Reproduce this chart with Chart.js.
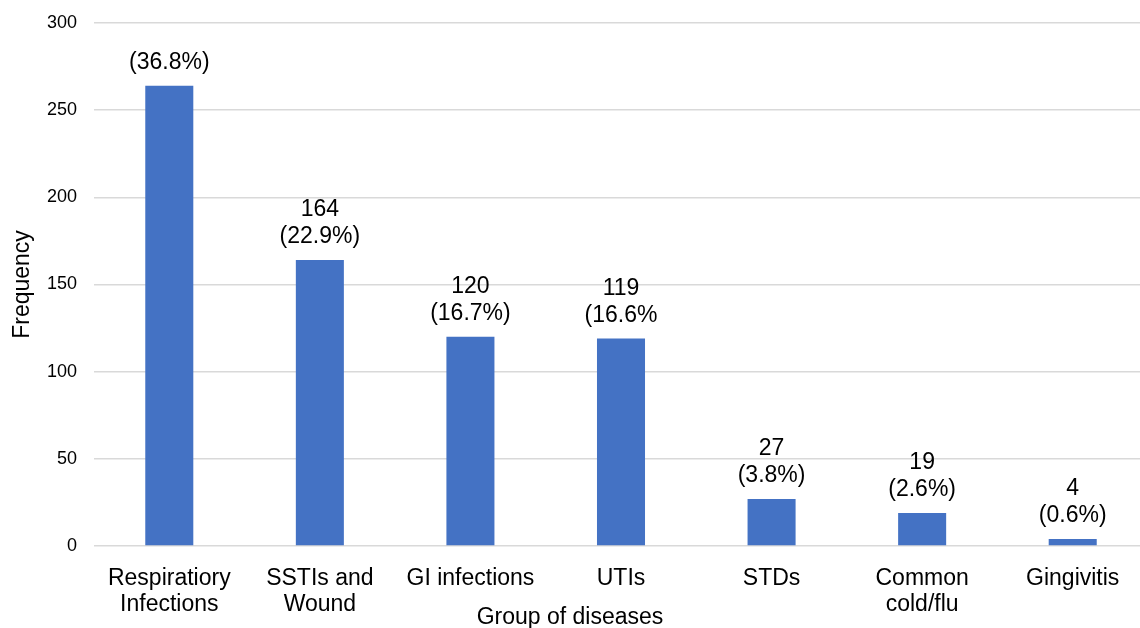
<!DOCTYPE html>
<html>
<head>
<meta charset="utf-8">
<script src="https://cdn.jsdelivr.net/npm/chart.js@4.4.1/dist/chart.umd.min.js"></script>
<style>
html,body{margin:0;padding:0;background:#fff;overflow:hidden;}
#wrap{width:1140px;height:628px;overflow:hidden;}
</style>
</head>
<body>
<div id="wrap"><canvas id="c" width="1148" height="628"></canvas></div>
<script>
const categories = [['Respiratiory','Infections'], ['SSTIs and','Wound'], ['GI infections'], ['UTIs'], ['STDs'], ['Common','cold/flu'], ['Gingivitis']];
const frequencies = [264, 164, 120, 119, 27, 19, 4];
const countLabels = ['', '164', '120', '119', '27', '19', '4'];
const percentLabels = ['(36.8%)', '(22.9%)', '(16.7%)', '(16.6%', '(3.8%)', '(2.6%)', '(0.6%)'];
const yTicks = [0, 50, 100, 150, 200, 250, 300];
const xTitle = 'Group of diseases';

const FONT = "'Liberation Sans', Arial, sans-serif";
const VISIBLE_WIDTH = 1140;

const labelPlugin = {
  id: 'barLabels',
  afterDatasetsDraw(chart) {
    const ctx = chart.ctx;
    const meta = chart.getDatasetMeta(0);
    ctx.save();
    ctx.font = '23px ' + FONT;
    ctx.fillStyle = '#000';
    ctx.textAlign = 'center';
    ctx.textBaseline = 'middle';
    meta.data.forEach((bar, i) => {
      const x = bar.x;
      const y = bar.y;
      ctx.fillText(percentLabels[i], x, y - 23);
      if (countLabels[i]) ctx.fillText(countLabels[i], x, y - 50);
    });
    // x-axis title, centred on the visible figure width
    ctx.fillText(xTitle, VISIBLE_WIDTH / 2, chart.chartArea.bottom + 72);
    ctx.restore();
  }
};

new Chart(document.getElementById('c'), {
  type: 'bar',
  data: {
    labels: categories,
    datasets: [{
      data: frequencies,
      backgroundColor: '#4472C4',
      borderWidth: 0,
      categoryPercentage: 1.0,
      barPercentage: 0.319
    }]
  },
  options: {
    responsive: false,
    animation: false,
    layout: { padding: { top: 23, right: 0, left: 0, bottom: 0 } },
    plugins: { legend: { display: false }, tooltip: { enabled: false } },
    scales: {
      x: {
        grid: { display: false, drawTicks: false },
        border: { display: false },
        ticks: { color: '#000', font: { family: FONT, size: 23, lineHeight: 1.13 }, padding: 20, maxRotation: 0, autoSkip: false },
        title: { display: false },
        afterFit(s) { s.height = 82; s.paddingLeft = 0; s.paddingRight = 0; }
      },
      y: {
        min: 0, max: 300,
        afterBuildTicks(s) { s.ticks = yTicks.map(v => ({ value: v })); },
        grid: { color: '#d9d9d9', lineWidth: 1.5, drawTicks: false },
        border: { display: false },
        ticks: { color: '#000', font: { family: FONT, size: 18 }, padding: 17 },
        title: { display: true, text: 'Frequency', color: '#000', font: { family: FONT, size: 23 }, padding: { top: 9, bottom: 0 } },
        afterFit(s) { s.width = 94; s.paddingTop = 0; s.paddingBottom = 0; }
      }
    }
  },
  plugins: [labelPlugin]
});
</script>
</body>
</html>
